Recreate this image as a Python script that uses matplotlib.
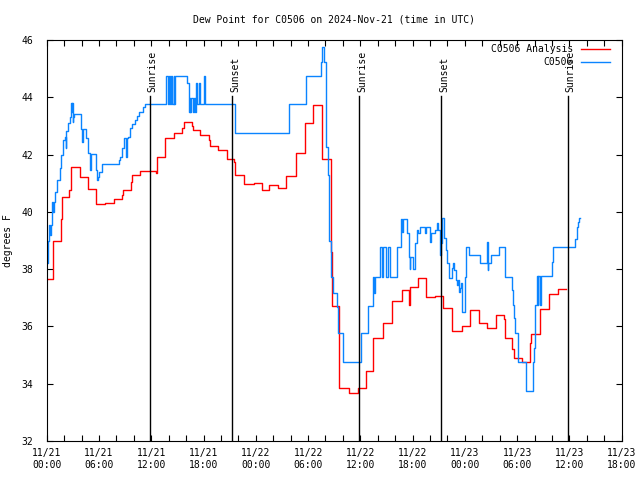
import matplotlib
matplotlib.use('Agg')
import matplotlib.pyplot as plt
import numpy as np

# hours since 2024-11-21 00:00 UTC
red_h = [0.08, 0.72, 1.68, 1.80, 2.60, 2.78, 3.78, 4.77, 5.61, 6.64,
         7.67, 8.67, 8.74, 9.70, 9.81, 10.76, 11.71, 12.56, 12.68, 13.63,
         14.66, 15.57, 15.72, 16.68, 16.75, 17.63, 18.63, 18.70, 19.62, 20.69,
         21.45, 21.64, 22.67, 23.74, 24.70, 25.54, 26.60, 27.52, 28.59, 29.62,
         30.61, 31.57, 32.60, 32.75, 33.55, 34.70, 35.69, 36.61, 37.48, 38.56,
         39.59, 40.73, 41.57, 41.65, 42.63, 43.59, 44.54, 45.49, 46.57, 47.67,
         48.55, 49.58, 50.58, 51.61, 52.48, 52.56, 53.44, 53.59, 54.59, 55.50,
         55.57, 56.57, 57.60, 58.66, 59.62]
red_v = [37.64, 38.97, 39.74, 40.51, 40.76, 41.56, 41.23, 40.79, 40.27, 40.31,
         40.44, 40.58, 40.75, 41.03, 41.29, 41.42, 41.44, 41.37, 41.90, 42.57,
         42.74, 42.92, 43.14, 43.01, 42.87, 42.68, 42.51, 42.30, 42.16, 41.85,
         41.74, 41.28, 40.96, 41.02, 40.75, 40.93, 40.83, 41.25, 42.04, 43.09,
         43.73, 41.85, 38.60, 36.71, 33.84, 33.69, 33.84, 34.43, 35.61, 36.11,
         36.89, 37.27, 36.75, 37.37, 37.69, 37.02, 37.05, 36.63, 35.83, 36.01,
         36.57, 36.11, 35.94, 36.39, 36.25, 35.60, 35.22, 34.90, 34.75, 35.43,
         35.72, 36.60, 37.12, 37.30, 37.30]

blue_h = [0.08, 0.15, 0.26, 0.34, 0.46, 0.57, 0.72, 0.80, 0.95, 1.15,
          1.49, 1.68, 1.87, 2.06, 2.16, 2.20, 2.26, 2.48, 2.63, 2.78,
          2.86, 2.92, 2.98, 3.06, 3.13, 3.97, 4.06, 4.18, 4.55, 4.77,
          4.96, 5.04, 5.61, 5.69, 5.80, 5.92, 6.03, 6.38, 8.28, 8.47,
          8.67, 8.85, 9.10, 9.19, 9.31, 9.54, 9.81, 10.08, 10.39, 10.65,
          11.07, 11.34, 13.74, 13.93, 14.08, 14.18, 14.28, 14.39, 14.58, 14.62,
          14.69, 16.11, 16.30, 16.40, 16.50, 16.60, 16.75, 16.87, 17.06, 17.17,
          17.29, 17.44, 17.56, 18.01, 18.20, 21.64, 27.86, 29.77, 31.49, 31.64,
          31.87, 32.06, 32.30, 32.45, 32.60, 32.90, 33.28, 33.47, 34.05, 36.07,
          36.91, 37.41, 37.60, 37.70, 38.25, 38.45, 38.55, 39.00, 39.20, 39.35,
          40.16, 40.66, 40.80, 40.90, 41.35, 41.57, 41.65, 41.75, 42.10, 42.23,
          42.45, 42.63, 42.82, 43.40, 43.59, 43.97, 44.16, 44.54, 44.75, 44.90,
          45.10, 45.20, 45.30, 45.41, 45.60, 45.87, 45.99, 46.14, 46.50, 46.64,
          46.75, 46.95, 47.10, 47.20, 47.33, 47.40, 47.60, 47.67, 47.98, 48.17,
          48.44, 49.77, 50.53, 50.60, 50.70, 51.00, 51.91, 52.60, 53.36, 53.52,
          53.68, 53.77, 54.04, 54.13, 55.00, 55.06, 55.80, 55.96, 56.03, 56.10,
          56.25, 56.35, 56.45, 56.60, 56.70, 57.98, 58.10, 60.60, 60.69, 60.84,
          60.92, 61.03, 61.15, 61.23]
blue_v = [38.22, 39.00, 39.54, 39.19, 39.54, 40.35, 40.00, 40.35, 40.70, 41.11,
          41.52, 41.98, 42.51, 42.62, 42.22, 42.62, 42.83, 43.09, 43.30, 43.79,
          43.50, 43.79, 43.15, 43.30, 43.42, 42.88, 42.45, 42.88, 42.57, 42.04,
          41.46, 42.01, 41.69, 41.46, 41.11, 41.23, 41.38, 41.67, 41.81, 41.93,
          42.22, 42.57, 41.93, 42.57, 42.62, 42.92, 43.07, 43.21, 43.35, 43.50,
          43.67, 43.77, 44.74, 43.77, 44.74, 43.77, 44.74, 43.77, 44.74, 43.77,
          44.74, 44.49, 43.50, 43.96, 43.50, 43.96, 43.50, 43.96, 43.50, 44.49,
          43.77, 44.49, 43.77, 44.74, 43.77, 42.74, 43.77, 44.74, 45.24, 45.74,
          45.24, 42.27, 41.30, 39.00, 37.74, 37.16, 36.69, 35.76, 34.75, 35.76,
          36.72, 37.74, 37.16, 37.74, 38.76, 37.74, 38.76, 37.74, 38.76, 37.74,
          38.76, 39.74, 39.30, 39.74, 39.25, 38.43, 38.00, 38.43, 38.00, 38.90,
          39.37, 39.25, 39.48, 39.25, 39.48, 38.96, 39.25, 39.37, 39.60, 39.37,
          38.90, 38.50, 38.90, 39.77, 39.08, 38.67, 38.20, 37.68, 38.03, 38.20,
          37.97, 37.62, 37.44, 37.62, 37.21, 37.33, 37.50, 36.51, 37.74, 38.76,
          38.49, 38.22, 38.94, 37.96, 38.22, 38.49, 38.76, 37.74, 37.27, 36.75,
          36.28, 35.76, 35.24, 34.75, 34.27, 33.76, 34.75, 35.24, 35.76, 36.75,
          37.76, 36.75, 37.76, 36.75, 37.76, 38.26, 38.76, 38.90, 39.05, 39.27,
          39.46, 39.66, 39.77, 39.77]

sun_h = [11.88, 21.30, 35.90, 45.30, 59.80]
sun_lbl = ['Sunrise', 'Sunset', 'Sunrise', 'Sunset', 'Sunrise']

tick_h = list(range(0, 67, 6))
tick_lbl = ['11/21\n00:00', '11/21\n06:00', '11/21\n12:00', '11/21\n18:00',
            '11/22\n00:00', '11/22\n06:00', '11/22\n12:00', '11/22\n18:00',
            '11/23\n00:00', '11/23\n06:00', '11/23\n12:00', '11/23\n18:00']

plt.rcParams['font.family'] = ['DejaVu Sans Mono']
plt.rcParams['font.size'] = 7

fig = plt.figure(figsize=(6.4, 4.8), dpi=100)
ax = fig.add_axes([46.7/640, 39/480, 575/640, 401/480])

ax.plot(red_h, red_v, color='#ff0000', lw=1.0, drawstyle='steps-post')
ax.plot(blue_h, blue_v, color='#0a84ff', lw=1.0, drawstyle='steps-post')

for h, s in zip(sun_h, sun_lbl):
    ax.plot([h, h], [32, 44.05], color='black', lw=1.0)
    ax.text(h + 0.3, 44.2, s, rotation=90, ha='center', va='bottom')

ax.set_xlim(0, 66)
ax.set_ylim(32, 46)
ax.set_xticks(tick_h)
ax.set_xticklabels(tick_lbl)
ax.set_xticks(range(0, 67, 2), minor=True)
ax.set_yticks(range(32, 47, 2))
ax.tick_params(axis='both', which='both', direction='in', top=True, right=True,
               length=4, width=0.8)
ax.tick_params(axis='x', pad=5)
ax.tick_params(axis='y', pad=10)
for sp in ax.spines.values():
    sp.set_linewidth(0.8)

ax.set_ylabel('degrees F')
ax.yaxis.set_label_coords(-0.058, 0.5)
fig.text(334/640, 1 - 20/480, 'Dew Point for C0506 on 2024-Nov-21 (time in UTC)',
         ha='center', va='center')

# legend, right aligned text as in gnuplot
ax.text(0.915, 0.9776, 'C0506 Analysis', transform=ax.transAxes, ha='right', va='center')
ax.plot([0.93, 0.98], [0.9776, 0.9776], color='#ff0000', lw=1.0, transform=ax.transAxes)
ax.text(0.915, 0.944, 'C0506', transform=ax.transAxes, ha='right', va='center')
ax.plot([0.93, 0.98], [0.944, 0.944], color='#0a84ff', lw=1.0, transform=ax.transAxes)

fig.savefig('out.png', dpi=100)
